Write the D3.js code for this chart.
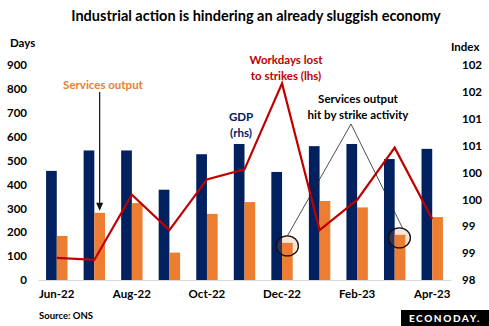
<!DOCTYPE html>
<html>
<head>
    <meta charset="utf-8">
    <title>Industrial action is hindering an already sluggish economy</title>
    <style>
        body {
            margin: 0;
            background: #fff;
            overflow: hidden;
        }
        svg text {
            font-family: Lato, "Open Sans", Arial, sans-serif;
            font-weight: bold;
        }
        .axis text {
            font-size: 11.5px;
            fill: #000;
        }
    </style>
</head>
<body>
    <script src="https://d3js.org/d3.v7.min.js"></script>
    <script>
        // Monthly data, Jun-22 .. Apr-23
        var months = ["Jun-22", "Jul-22", "Aug-22", "Sep-22", "Oct-22", "Nov-22",
                      "Dec-22", "Jan-23", "Feb-23", "Mar-23", "Apr-23"];
        // working days lost to strikes, thousands (left axis)
        var workdaysLost = [93, 84, 357, 209, 421, 463, 823, 209, 335, 554, 255];
        // GDP index (right axis)
        var gdpIndex = [100.03, 100.41, 100.41, 99.68, 100.34, 100.53, 100.01, 100.49, 100.53, 100.25, 100.44];
        // services output index (right axis)
        var servicesIndex = [98.82, 99.25, 99.43, 98.51, 99.23, 99.45, 98.69, 99.47, 99.35, 98.84, 99.17];

        var xTicks = ["Jun-22", "Aug-22", "Oct-22", "Dec-22", "Feb-23", "Apr-23"];
        var leftTicks = [0, 100, 200, 300, 400, 500, 600, 700, 800, 900];
        var rightTicks = [98, 98.5, 99, 99.5, 100, 100.5, 101, 101.5, 102];
        var hitMonths = ["Dec-22", "Mar-23"];

        var width = 489, height = 326;
        var navy = "#002060", orange = "#ED7D31", red = "#C00000";

        var svg = d3.select("body").append("svg")
            .attr("width", width)
            .attr("height", height);

        var x = d3.scaleBand().domain(months).range([38, 451])
            .paddingInner(0.43).paddingOuter(0.215);
        var xSub = d3.scaleBand().domain(["gdp", "services"]).range([0, x.bandwidth()]);
        var yL = d3.scaleLinear().domain([0, 900]).range([280, 65]);
        var yR = d3.scaleLinear().domain([98, 102]).range([280, 65]);

        // title
        svg.append("text")
            .attr("x", 256).attr("y", 16).attr("dy", "0.35em")
            .attr("text-anchor", "middle")
            .style("font-size", "14.5px")
            .text("Industrial action is hindering an already sluggish economy");

        svg.append("text").attr("x", 10).attr("y", 43).attr("dy", "0.35em")
            .style("font-size", "11.5px").text("Days");
        svg.append("text").attr("x", 451).attr("y", 47).attr("dy", "0.35em")
            .style("font-size", "11.5px").text("Index");

        // axes
        svg.append("g").attr("class", "axis")
            .attr("transform", "translate(27,0)")
            .call(d3.axisLeft(yL).tickValues(leftTicks).tickSize(0).tickPadding(0))
            .call(g => g.select(".domain").remove());

        svg.append("g").attr("class", "axis")
            .attr("transform", "translate(462,0)")
            .call(d3.axisRight(yR).tickValues(rightTicks).tickSize(0).tickPadding(0)
                .tickFormat(d => Math.round(d)))
            .call(g => g.select(".domain").remove());

        // bars
        var groups = svg.append("g").selectAll("g")
            .data(months)
            .join("g")
            .attr("transform", d => "translate(" + x(d) + ",0)");

        groups.append("rect")
            .attr("x", xSub("gdp"))
            .attr("width", xSub.bandwidth())
            .attr("y", (d, i) => yR(gdpIndex[i]))
            .attr("height", (d, i) => yR(98) - yR(gdpIndex[i]))
            .attr("fill", navy);

        groups.append("rect")
            .attr("x", xSub("services"))
            .attr("width", xSub.bandwidth())
            .attr("y", (d, i) => yR(servicesIndex[i]))
            .attr("height", (d, i) => yR(98) - yR(servicesIndex[i]))
            .attr("fill", orange);

        svg.append("g").attr("class", "axis")
            .attr("transform", "translate(0,280)")
            .call(d3.axisBottom(x).tickValues(xTicks).tickSizeInner(0).tickSizeOuter(0).tickPadding(10))
            .call(g => g.select(".domain").attr("stroke", "#d9d9d9"));

        // workdays lost line
        var line = d3.line()
            .x((d, i) => x(months[i]) + x.bandwidth() / 2)
            .y(d => yL(d));

        svg.append("path")
            .datum(workdaysLost)
            .attr("d", line)
            .attr("fill", "none")
            .attr("stroke", red)
            .attr("stroke-width", 2.2)
            .attr("stroke-linejoin", "miter");

        // annotations
        function label(lines, cx, cy, color, gap) {
            var t = svg.append("text")
                .attr("text-anchor", "middle")
                .style("font-size", "11.5px")
                .attr("fill", color);
            lines.forEach(function(s, i) {
                t.append("tspan").attr("x", cx).attr("y", cy + i * gap)
                    .attr("dy", "0.35em").text(s);
            });
        }

        label(["Services output"], 103, 85, orange, 0);
        label(["GDP", "(rhs)"], 241, 117, navy, 16);
        label(["Workdays lost", "to strikes (lhs)"], 286, 60, red, 15.5);
        label(["Services output", "hit by strike activity"], 358, 99, "#000", 16);

        // arrow down onto Jul-22 services bar
        var jul = months.indexOf("Jul-22");
        var ax = x("Jul-22") + xSub("services") + xSub.bandwidth() / 2;
        var tipY = yR(servicesIndex[jul]) - 2;
        svg.append("line")
            .attr("x1", ax).attr("x2", ax)
            .attr("y1", 92).attr("y2", tipY - 7)
            .attr("stroke", "#111").attr("stroke-width", 1.2);
        svg.append("path")
            .attr("d", "M" + (ax - 3.5) + "," + (tipY - 8) + "L" + (ax + 3.5) + "," + (tipY - 8) + "L" + ax + "," + tipY + "Z")
            .attr("fill", "#111");

        // circles on the services bars hit by strikes
        var apex = [351, 124];
        var rx = 11, ry = 10;
        var ends = [0, 3];
        hitMonths.forEach(function(m, k) {
            var i = months.indexOf(m);
            var cx = x(m) + xSub("services") + xSub.bandwidth() / 2 - k * 0.6;
            var cy = yR(servicesIndex[i]) + 3;
            svg.append("line")
                .attr("x1", apex[0]).attr("y1", apex[1])
                .attr("x2", cx + ends[k]).attr("y2", cy - ry)
                .attr("stroke", "#222").attr("stroke-width", 0.8);
            svg.append("ellipse")
                .attr("cx", cx).attr("cy", cy)
                .attr("rx", rx).attr("ry", ry)
                .attr("fill", orange).attr("fill-opacity", 0.2)
                .attr("stroke", "#111").attr("stroke-width", 1.3);
        });

        // footer
        svg.append("text").attr("x", 39).attr("y", 316).attr("dy", "0.35em")
            .style("font-size", "9.5px").text("Source: ONS");

        svg.append("rect")
            .attr("x", 401).attr("y", 310).attr("width", 88).attr("height", 16)
            .attr("fill", "#000");
        svg.append("text")
            .attr("x", 445).attr("y", 318.5).attr("dy", "0.35em")
            .attr("text-anchor", "middle")
            .attr("fill", "#fff")
            .style("font-size", "10px")
            .style("font-weight", "900")
            .style("letter-spacing", "1.6px")
            .text("ECONODAY.");
    </script>
</body>
</html>
